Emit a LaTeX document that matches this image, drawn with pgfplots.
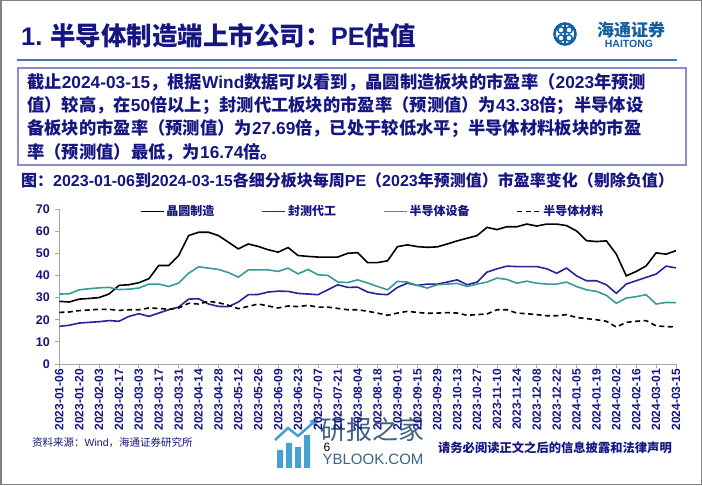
\documentclass[border=0pt]{standalone}
\usepackage{fontspec}
\usepackage{pgfplots}
\pgfplotsset{compat=1.18}
\setmainfont{Liberation Sans}
\newfontfamily\cjk{Noto Sans CJK SC}
\newcommand\E[1]{{\rmfamily #1}}
\definecolor{txtblue}{RGB}{22,22,130}
\definecolor{lineblue}{RGB}{45,35,150}
\definecolor{tealc}{RGB}{55,155,150}
\definecolor{logoblue}{RGB}{20,95,160}
\definecolor{boxc}{RGB}{140,140,200}
\definecolor{rulec}{RGB}{70,120,185}
\definecolor{wmark}{RGB}{60,100,130}
\definecolor{wicon}{RGB}{70,160,210}
\begin{document}
\begin{tikzpicture}[x=1pt,y=1pt]
\path[use as bounding box] (0,0) rectangle (702,485);
\fill[white] (0,0) rectangle (702,485);
\draw[gray, line width=1.5pt] (0.75,0.75) rectangle (701.25,484.25);
% title
\node[anchor=west, text=txtblue, font=\cjk\bfseries\fontsize{25.5}{28}\selectfont, inner sep=0] at (21,449) {\E{1.} 半导体制造端上市公司：\E{PE}估值};
% logo
\draw[logoblue, line width=2.6pt] (565,451) circle (10.5);
\draw[logoblue, line width=1.4pt] (561,455) circle (3.2) (569,455) circle (3.2) (561,447) circle (3.2) (569,447) circle (3.2);
\draw[logoblue, line width=1.4pt] (565,442) -- (565,460);
\node[text=logoblue, font=\cjk\bfseries\fontsize{17}{17}\selectfont, inner sep=0] at (631,455) {海通证券};
\node[text=logoblue, font=\rmfamily\bfseries\fontsize{10.5}{11}\selectfont, inner sep=0] at (629,441.5) {HAITONG};
% rule
\draw[rulec, line width=1.5pt] (17,425) -- (677,425);
% box
\draw[boxc, line width=1.2pt] (18,417) rectangle (686,320);
\begin{scope}[every node/.style={anchor=west, text=txtblue, font=\cjk\bfseries\fontsize{17.3}{20}\selectfont, inner sep=0}]
\node at (27,403) {截止\E{2024-03-15}，根据\E{Wind}数据可以看到，晶圆制造板块的市盈率（\E{2023}年预测};
\node at (27,379.5) {值）较高，在\E{50}倍以上；封测代工板块的市盈率（预测值）为\E{43.38}倍；半导体设};
\node at (27,356) {备板块的市盈率（预测值）为\E{27.69}倍，已处于较低水平；半导体材料板块的市盈};
\node at (27,332.5) {率（预测值）最低，为\E{16.74}倍。};
\end{scope}
% chart title
\node[anchor=west, text=txtblue, font=\cjk\bfseries\fontsize{16}{18}\selectfont, inner sep=0] at (21,305) {图：\E{2023-01-06}到\E{2024-03-15}各细分板块每周\E{PE}（\E{2023}年预测值）市盈率变化（剔除负值）};
% footer
\node[anchor=west, text=txtblue, font=\cjk\fontsize{10.5}{12}\selectfont, inner sep=0] at (32,42) {资料来源：\E{Wind}，海通证券研究所};
\node[anchor=east, text=txtblue, font=\cjk\bfseries\fontsize{12.3}{14}\selectfont, inner sep=0] at (672,37) {请务必阅读正文之后的信息披露和法律声明};
% watermark
\fill[wicon] (277,17) rectangle (283,35) (286,17) rectangle (292,42) (295,17) rectangle (301,38) (304,17) rectangle (310,50);
\draw[wicon, line width=2.5pt] (275,45) -- (288,57) -- (298,49) -- (314,63);
\fill[wicon] (318,67) -- (309,64) -- (316,58) -- cycle;
\node[text=wmark, font=\cjk\fontsize{26}{28}\selectfont, inner sep=0] at (372,55) {研报之家};
\node[text=wmark, font=\rmfamily\fontsize{15}{16}\selectfont, inner sep=0] at (373,26) {YBLOOK.COM};
\node[text=black, font=\rmfamily\fontsize{12}{12}\selectfont, inner sep=0] at (327,38) {6};
% chart
\begin{axis}[
  at={(59.3pt,121pt)}, anchor=south west, scale only axis,
  width=616.7pt, height=155pt,
  xmin=0, xmax=62, ymin=0, ymax=70,
  axis x line*=bottom, axis y line*=left,
  axis line style={gray!70, line width=0.8pt, -},
  xtick={0,2,...,62},
  xticklabels={2023-01-06,2023-01-20,2023-02-03,2023-02-17,2023-03-03,2023-03-17,2023-03-31,2023-04-14,2023-04-28,2023-05-12,2023-05-26,2023-06-09,2023-06-23,2023-07-07,2023-07-21,2023-08-04,2023-08-18,2023-09-01,2023-09-15,2023-09-29,2023-10-13,2023-10-27,2023-11-10,2023-11-24,2023-12-08,2023-12-22,2024-01-05,2024-01-19,2024-02-02,2024-02-16,2024-03-01,2024-03-15},
  ytick={0,10,...,70},
  tick align=outside, major tick length=4pt,
  tick style={gray!70, line width=0.8pt},
  /pgf/number format/assume math mode=true,
  xticklabel style={rotate=90, anchor=east, font=\rmfamily\bfseries\fontsize{12}{12}\selectfont, text=txtblue, inner sep=1pt},
  yticklabel style={font=\rmfamily\bfseries\fontsize{12.5}{13}\selectfont, text=txtblue, xshift=-2pt},
  legend columns=4,
  legend style={at={(0.508,0.985)}, anchor=center, draw=none, fill=none,
    font=\cjk\bfseries\fontsize{12}{12}\selectfont, text=txtblue, inner sep=0pt,
    /tikz/every even column/.append style={column sep=45pt}},
  legend image code/.code={\draw[#1] (0pt,0pt) -- (23pt,0pt);},
]
\addplot[black, line width=1.6pt] coordinates {
(0,28.3) (1,28.0) (2,29.3) (3,29.6) (4,30.0) (5,31.6) (6,35.5) (7,35.8) (8,36.7) (9,38.5)
(10,44.5) (11,44.5) (12,49.0) (13,58.0) (14,59.5) (15,59.5) (16,58.0) (17,55.0) (18,52.0) (19,54.2)
(20,53.1) (21,51.6) (22,50.5) (23,52.6) (24,49.0) (25,48.6) (26,48.3) (27,48.3) (28,48.3) (29,50.0)
(30,50.3) (31,45.8) (32,45.8) (33,46.6) (34,53.0) (35,53.8) (36,53.0) (37,52.7) (38,52.9) (39,54.2)
(40,55.6) (41,56.8) (42,58.0) (43,61.7) (44,60.7) (45,62.0) (46,62.0) (47,63.2) (48,62.3) (49,63.2)
(50,63.2) (51,62.5) (52,60.1) (53,55.7) (54,55.3) (55,55.6) (56,49.6) (57,39.8) (58,41.8) (59,44.3)
(60,50.2) (61,49.6) (62,51.2)};
\addlegendentry{晶圆制造}
\addplot[lineblue, line width=1.6pt] coordinates {
(0,17.0) (1,17.5) (2,18.5) (3,18.8) (4,19.1) (5,19.6) (6,19.3) (7,21.5) (8,22.7) (9,21.5)
(10,23.0) (11,24.5) (12,25.7) (13,29.3) (14,29.5) (15,27.1) (16,26.0) (17,25.9) (18,28.0) (19,31.3)
(20,31.4) (21,32.5) (22,32.9) (23,32.8) (24,31.9) (25,31.6) (26,31.3) (27,33.5) (28,35.8) (29,34.6)
(30,34.7) (31,32.5) (32,31.6) (33,31.3) (34,34.6) (35,36.5) (36,35.5) (37,36.1) (38,36.1) (39,37.0)
(40,38.0) (41,35.8) (42,37.0) (43,41.5) (44,43.0) (45,44.2) (46,44.0) (47,44.0) (48,44.0) (49,43.0)
(50,41.0) (51,43.3) (52,39.8) (53,37.6) (54,37.6) (55,35.8) (56,31.9) (57,36.1) (58,37.6) (59,39.1)
(60,40.6) (61,44.2) (62,43.4)};
\addlegendentry{封测代工}
\addplot[tealc, line width=1.6pt] coordinates {
(0,31.6) (1,31.7) (2,33.5) (3,34.0) (4,34.4) (5,34.6) (6,33.6) (7,33.8) (8,34.3) (9,36.1)
(10,36.1) (11,35.0) (12,36.5) (13,41.0) (14,43.9) (15,43.3) (16,42.7) (17,41.3) (18,39.2) (19,42.5)
(20,42.5) (21,42.5) (22,41.8) (23,43.3) (24,40.7) (25,42.7) (26,40.3) (27,40.0) (28,37.0) (29,36.8)
(30,38.0) (31,36.6) (32,35.0) (33,33.5) (34,37.3) (35,37.0) (36,35.5) (37,34.3) (38,35.8) (39,36.1)
(40,36.4) (41,35.0) (42,36.1) (43,37.0) (44,38.8) (45,38.2) (46,36.5) (47,37.4) (48,36.5) (49,36.1)
(50,36.1) (51,37.0) (52,35.0) (53,33.5) (54,32.8) (55,31.0) (56,27.4) (57,29.8) (58,30.4) (59,31.3)
(60,27.1) (61,27.8) (62,27.7)};
\addlegendentry{半导体设备}
\addplot[black, line width=1.6pt, dash pattern=on 5pt off 3.5pt] coordinates {
(0,23.3) (1,23.5) (2,24.1) (3,24.4) (4,24.7) (5,24.7) (6,24.2) (7,24.5) (8,24.5) (9,25.3)
(10,25.1) (11,24.7) (12,25.3) (13,27.4) (14,27.1) (15,28.3) (16,27.7) (17,26.5) (18,25.0) (19,26.0)
(20,27.1) (21,26.2) (22,25.3) (23,26.2) (24,25.9) (25,26.5) (26,25.7) (27,25.7) (28,25.1) (29,24.5)
(30,24.5) (31,23.8) (32,23.0) (33,22.0) (34,23.0) (35,23.8) (36,23.3) (37,22.9) (38,23.0) (39,23.2)
(40,23.0) (41,22.0) (42,22.3) (43,22.6) (44,24.5) (45,24.5) (46,23.0) (47,22.7) (48,22.3) (49,21.8)
(50,21.8) (51,22.3) (52,21.0) (53,20.5) (54,20.0) (55,19.3) (56,16.7) (57,18.8) (58,19.3) (59,19.6)
(60,17.2) (61,16.9) (62,16.7)};
\addlegendentry{半导体材料}
\end{axis}
\end{tikzpicture}
\end{document}
